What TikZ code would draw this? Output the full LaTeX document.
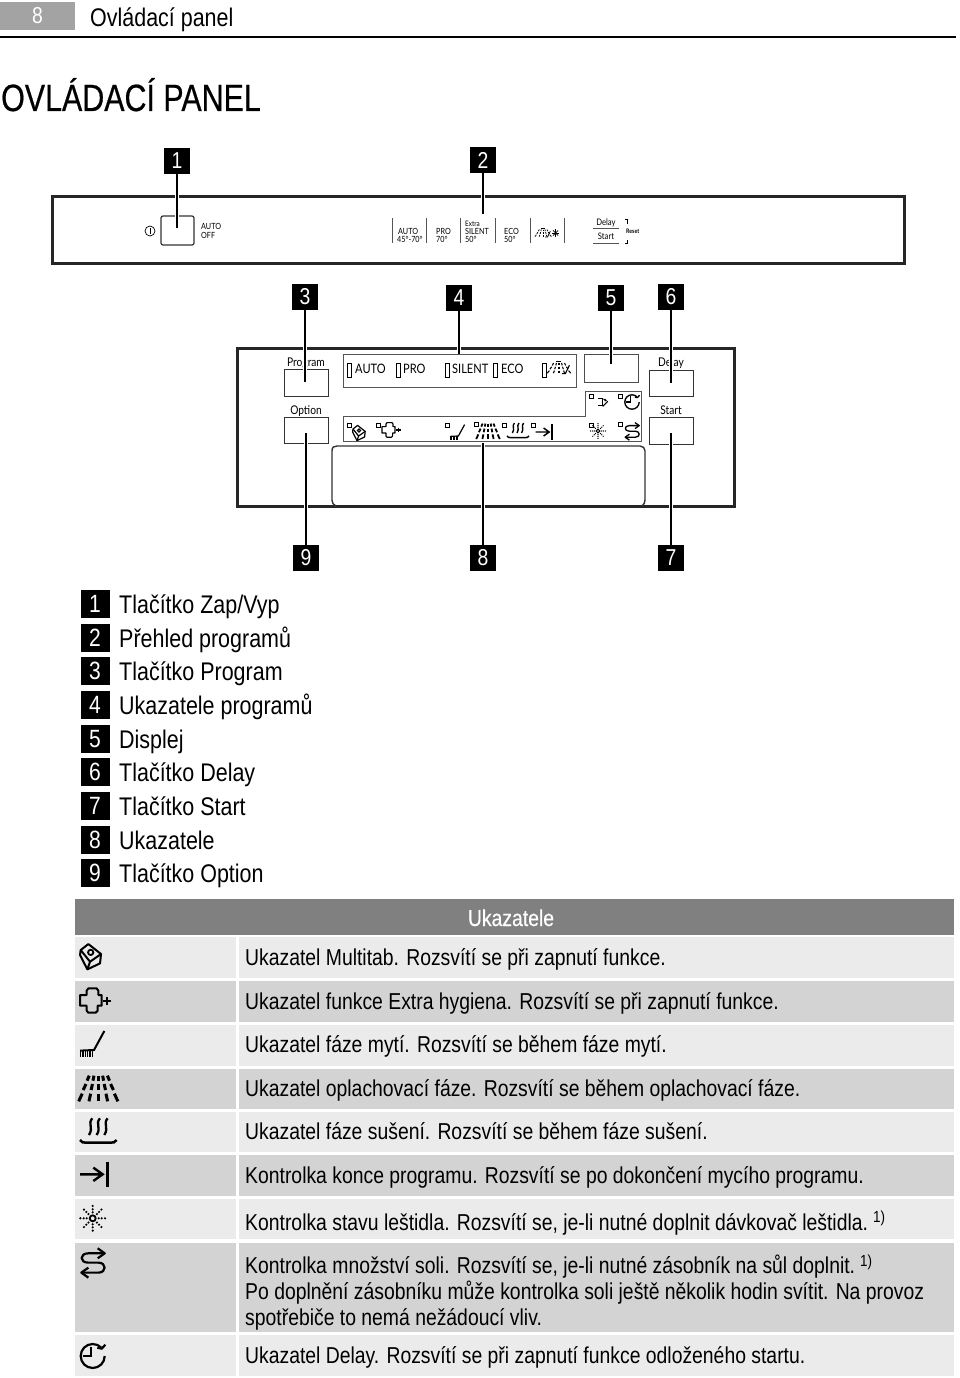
\documentclass[tikz,border=0pt]{standalone}
\usepackage{fontspec}
\setmainfont{Liberation Sans}[FakeStretch=0.842]
\newfontfamily\panelfont{Lato}[FakeStretch=0.85]
\newfontfamily\titlefont{Liberation Sans}[FakeStretch=0.8,FakeBold=0.5]
\newfontfamily\headfont{Liberation Sans}[FakeStretch=0.842,FakeBold=0.5]
\definecolor{rowa}{HTML}{EBEBEB}
\definecolor{rowb}{HTML}{D3D3D3}
\definecolor{headgray}{HTML}{808080}
\definecolor{pagebox}{HTML}{A3A3A3}
\definecolor{thinline}{HTML}{555555}
\definecolor{boxline}{HTML}{262626}
\newcommand{\fs}[1]{\fontsize{#1}{#1}\selectfont}
\newcommand{\icon}[4]{\begin{scope}[shift={(#1,#2)},#3]#4\end{scope}}
\newlength{\lwb}
% ---- icons, in units of a 3x zoom, centred on the origin
\newcommand{\IMulti}{%
 \draw[line width=2\lwb,line join=round] (-7,-38)--(31,-8)--(28,20)--(-10,38)--(-32,-5)--(-30,-20)--cycle;
 \draw[line width=2\lwb,line join=round] (-30,-20)--(-2,15)--(31,-8) (-2,15)--(-10,38);
 \draw[line width=1.8\lwb] (0,-13) circle (8);}
\newcommand{\ICross}{%
 \draw[line width=2\lwb,line join=round] (-20,-37)--(5,-37)--(10,-30)--(10,-17)--(20,-17)--(20,15)--(8,15)--(8,30)--(2,36)--(-20,36)--(-25,30)--(-25,15)--(-45,15)--(-45,-17)--(-25,-17)--(-25,-30)--cycle;
 \draw[line width=1.8\lwb] (24,0)--(48,0) (36,-12)--(36,12);}
\newcommand{\IBrush}{%
 \draw[line width=2\lwb] (38,-37)--(7,20)--(-35,22);
 \foreach \x in {-33,-26,-19,-12,-5,2}{\draw[line width=1.2\lwb] (\x,22)--(\x,40);}}
\newcommand{\ISpray}{%
 \foreach \k in {-0.42,-0.2,0,0.2,0.42}{%
  \draw[line width=3\lwb] ({\k*65},-37)--({\k*80},-22);
  \draw[line width=3\lwb] ({\k*88},-12)--({\k*108},6);
  \draw[line width=3\lwb] ({\k*115},17)--({\k*140},40);}}
\newcommand{\ISteam}{%
 \foreach \x in {-23,0,23}{\draw[line width=2.3\lwb] (\x+5,-35) .. controls (\x-10,-18) and (\x+10,-8) .. (\x-5,15);}
 \draw[line width=2.5\lwb] (-55,30) .. controls (-50,38) and (-45,38) .. (-35,38)--(35,38) .. controls (45,38) and (50,38) .. (55,30);}
\newcommand{\IArrow}{%
 \draw[line width=2.4\lwb] (-42,0)--(26,0) (-2,-20)--(26,0)--(-2,20);
 \draw[line width=3.2\lwb] (41,-38)--(41,39);}
\newcommand{\ISun}{%
 \draw[line width=1.8\lwb] (0,0) circle (9);
 \foreach \a in {0,45,...,315}{\foreach \r in {18,27,37}{\fill (\a:\r) circle (3.6);}}}
\newcommand{\ISalt}{%
 \draw[line width=2.2\lwb,line join=round] (35,-27)--(-13,-27) .. controls (-40,-27) and (-40,1) .. (-13,1)--(17,1) .. controls (42,1) and (42,31) .. (17,31)--(-33,31);
 \draw[line width=2.2\lwb,line join=round] (15,-42)--(36,-27)--(15,-12) (-13,16)--(-34,31)--(-13,46);}
\newcommand{\IClock}{%
 \draw[line width=2.2\lwb] (36,0) arc (0:315:36);
 \draw[line width=2.2\lwb] (-6,-28)--(-6,0)--(-28,0);
 \draw[line width=2.2\lwb,line join=round] (14,-25)--(27,-22)--(38,-34);}
\newcommand{\IRinse}{%
 \draw[line width=1.8\lwb] (-24,-17)--(-1,-17)--(-1,16)--(-24,16);
 \draw[line width=1.8\lwb] (24,-4)--(-1,22);
 \draw[line width=1.5\lwb] (2,-15)--(16,-7) (10,-14)--(16,-7)--(8,-5);}
\newcommand{\IWashy}{%
 \foreach \k in {-0.42,-0.2,0,0.2,0.42}{%
  \draw[line width=1.8\lwb] ({-10+\k*65},-25)--({-10+\k*80},-13);
  \draw[line width=1.8\lwb] ({-10+\k*88},-6)--({-10+\k*108},6);
  \draw[line width=1.8\lwb] ({-10+\k*115},13)--({-10+\k*140},26);}
 \draw[line width=1.8\lwb] (42,-14)--(22,28)--(4,28);
 \draw[line width=1.8\lwb] (2,-32)--(-26,-32);}
\tikzset{
 tagbox/.style={fill=black,text=white,inner sep=0pt,minimum width=26,minimum height=26,font=\fs{23}},
 legtag/.style={fill=black,text=white,inner sep=0pt,minimum width=29,minimum height=28,font=\fs{25}},
 conn/.style={draw=black,line width=1.5pt,preaction={draw=white,line width=4.5pt}},
 outerbox/.style={draw=boxline,line width=3pt,inner sep=0pt,outer sep=0pt,anchor=north west},
 btnbox/.style={draw=black!80,line width=1.2pt,inner sep=0pt,outer sep=0pt},
 grayline/.style={draw=thinline,line width=1pt,outer sep=0pt},
 ledsq/.style={draw=black,line width=1pt,inner sep=0pt,minimum size=4},
 ledbar/.style={draw=black,line width=0.9pt,inner sep=0pt,minimum width=4,minimum height=14},
 plab/.style={anchor=base west,inner sep=0pt,font=\panelfont\fs{13}},
 sl/.style={anchor=base west,inner sep=0pt,font=\panelfont\fs{8.5},align=left},
 sc/.style={anchor=base,inner sep=0pt,font=\panelfont\fs{9}},
 toplab/.style={anchor=base,inner sep=0pt,font=\panelfont\fs{12}},
 legtext/.style={anchor=base west,inner sep=0pt,font=\fs{25.5}},
 rowtext/.style={anchor=base west,inner sep=0pt,font=\fs{23}},
 cella/.style={fill=rowa,inner sep=0pt,outer sep=0pt,anchor=north west},
 cellb/.style={fill=rowb,inner sep=0pt,outer sep=0pt,anchor=north west},
 ticon/.style={scale=0.3333,/utils/exec={\setlength{\lwb}{1pt}}},
 picon/.style={scale=0.2,/utils/exec={\setlength{\lwb}{0.6pt}}},
 mini/.style={scale=0.14,/utils/exec={\setlength{\lwb}{0.42pt}}},
}
\begin{document}
\begin{tikzpicture}[x=1pt,y=-1pt]
\useasboundingbox[fill=white] (0,0) rectangle (960,1378);
% page head
\node[fill=pagebox,text=white,inner sep=0pt,outer sep=0pt,minimum width=75,minimum height=28,anchor=north west,font=\fs{23}] (pageno) at (0,2) {8};
\node[anchor=base west,inner sep=0pt,font=\fs{25.5}] (runhead) at (90,27) {Ovládací panel};
\coordinate (ruleL) at (0,37); \coordinate (ruleR) at (956,37);
\draw[line width=1.2pt] (ruleL)--(ruleR);
\node[anchor=base west,inner sep=0pt,font=\titlefont\fs{38}] (title) at (1,111) {OVLÁDACÍ PANEL};
% ---- upper panel
\node[outerbox,minimum width=852,minimum height=66.5] (panelA) at (52.5,196.5) {};
\node[btnbox,rounded corners=2,minimum width=33,minimum height=29,anchor=north west] (onoff) at (161,216) {};
\draw[line width=0.7pt] (150,231) circle (5); \draw[line width=0.8pt] (150,228)--(150,234);
\node[sl] (autooff) at (201,229) {AUTO};
\node[sl] (autooffb) at (201,238) {OFF};
\foreach \x in {392,426,460,495,530,564}{\draw[grayline] (\x,218)--(\x,243);}
\node[sl] (p1a) at (398,234) {AUTO};
\node[sl] (p1b) at (397,242) {45°-70°};
\node[sl] (p2a) at (436,234) {PRO};
\node[sl] (p2b) at (436,242) {70°};
\node[sl,font=\panelfont\fs{7.5}] (p3x) at (465,226) {Extra};
\node[sl] (p3a) at (465,234) {SILENT};
\node[sl] (p3b) at (465,242) {50°};
\node[sl] (p4a) at (504,234) {ECO};
\node[sl] (p4b) at (504,242) {50°};
\icon{544.5}{233}{mini}{\IWashy}
\foreach \a in {0,45,...,315}{\draw[line width=0.7pt] (555.5,233)--++(\a:3.6);}
\node[sc] (tdelay) at (606,225) {Delay};
\node[sc] (tstart) at (606,239) {Start};
\draw[grayline] (593,228)--(619,228) (593,243)--(619,243);
\draw[line width=0.7pt] (625,219)--(627,219)--(627,224) (627,240)--(627,243)--(625,243);
\node[anchor=base west,inner sep=0pt,font=\panelfont\bfseries\fs{6.2}] (treset) at (626,233) {Reset};
% ---- lower panel
\node[outerbox,minimum width=497,minimum height=157.5] (panelB) at (237.5,348.5) {};
\node[btnbox,minimum width=44,minimum height=27,anchor=north west] (bProg) at (284.5,369.5) {};
\node[btnbox,minimum width=44,minimum height=26,anchor=north west] (bOpt) at (284.5,417.5) {};
\node[btnbox,minimum width=44,minimum height=26,anchor=north west] (bDelay) at (649.5,370.5) {};
\node[btnbox,minimum width=44,minimum height=27,anchor=north west] (bStart) at (649.5,417.5) {};
\node[grayline,minimum width=233,minimum height=33,inner sep=0pt,anchor=north west] (rowProg) at (343,354) {};
\node[grayline,draw=black!70,minimum width=54,minimum height=28,inner sep=0pt,anchor=north west] (disp) at (584,354) {};
\draw[grayline] (343,416.5)--(585,416.5)--(585,391)--(641,391)--(641,441)--(343,441)--cycle;
\draw[draw=black!80,line width=1.4pt] (336,506) .. controls (333,504) and (332,503) .. (332,500)--(332,451) .. controls (332,447) and (334,446) .. (337,446)--(640,446) .. controls (643,446) and (645,448) .. (645,451)--(645,500) .. controls (645,503) and (644,504) .. (642,506);
\node[toplab] (lProg) at (306,366) {Program};
\node[toplab] (lOpt) at (306,414) {Option};
\node[toplab] (lDelay) at (671,366) {Delay};
\node[toplab] (lStart) at (671,414) {Start};
% programme row
\node[ledbar] (la) at (349,370) {}; \node[plab] (ta) at (355,373.5) {AUTO};
\node[ledbar] (lb) at (398,370) {}; \node[plab] (tb) at (403,373.5) {PRO};
\node[ledbar] (lc) at (447,370) {}; \node[plab] (tc) at (452,373.5) {SILENT};
\node[ledbar] (ld) at (495,370) {}; \node[plab] (td) at (501,373.5) {ECO};
\node[ledbar] (le) at (544,370) {};
\icon{561}{368}{picon}{\IWashy}
% indicator LEDs
\foreach \n/\x/\y in {s1/349/425,s2/378/425,s3/447/425,s4/476/424,s5/504/425,s6/533/425,s7/591/425,s8/620/424,s9/620/396,s10/591/396}{\node[ledsq] (\n) at (\x,\y) {};}
\icon{359}{433}{picon}{\IMulti}
\icon{391}{430}{picon}{\ICross}
\icon{457}{432}{picon}{\IBrush}
\icon{488}{431}{picon}{\ISpray}
\icon{518}{430}{picon}{\ISteam}
\icon{544}{432}{picon}{\IArrow}
\icon{598}{431}{picon}{\ISun}
\icon{632}{431}{picon}{\ISalt}
\icon{632}{402}{picon}{\IClock}
\icon{603}{402}{picon}{\IRinse}
% ---- number tags and connectors
\node[tagbox] (t1) at (177,161) {1};
\node[tagbox] (t2) at (483,160) {2};
\node[tagbox] (t3) at (305,297) {3};
\node[tagbox] (t4) at (459,298) {4};
\node[tagbox] (t5) at (611,298) {5};
\node[tagbox] (t6) at (671,297) {6};
\node[tagbox] (t9) at (306,558) {9};
\node[tagbox] (t8) at (483,558) {8};
\node[tagbox] (t7) at (671,558) {7};
\coordinate (e1) at (177,228);
\coordinate (e2) at (483,214);
\coordinate (e3) at (305,382);
\coordinate (e4) at (459,354);
\coordinate (e5) at (611,364);
\coordinate (e6) at (671,383);
\coordinate (e9) at (306,433);
\coordinate (e8) at (483,443);
\coordinate (e7) at (671,433);
\foreach \t/\e in {t1/e1,t2/e2,t3/e3,t4/e4,t5/e5,t6/e6}{\path[conn] (\t.south)--(\e);}
\foreach \t/\e in {t9/e9,t8/e8,t7/e7}{\path[conn] (\t.north)--(\e);}
% ---- legend
\foreach \n/\y/\s in {1/604/Tlačítko Zap\slash Vyp,2/638/Přehled programů,3/671/Tlačítko Program,4/705/Ukazatele programů,5/739/Displej,6/772/Tlačítko Delay,7/806/Tlačítko Start,8/840/Ukazatele,9/873/Tlačítko Option}{%
 \node[legtag] (leg\n) at (95,\y) {\n};
 \node[legtext] (legt\n) at (119,\y+9) {\s};}
% ---- table
\node[fill=headgray,text=white,inner sep=0pt,outer sep=0pt,minimum width=879,minimum height=36,anchor=north west] (thead) at (75,899) {};
\node[text=white,inner sep=0pt,anchor=base,font=\headfont\fs{23}] (theadt) at (511,926) {Ukazatele};
\foreach \n/\st/\y/\h in {1/cella/937/41,2/cellb/981/41,3/cella/1025/41,4/cellb/1069/40,5/cella/1112/40,6/cellb/1155/41,7/cella/1199/40,8/cellb/1243/89,9/cella/1335/41}{%
 \node[\st,minimum width=161,minimum height=\h] (ca\n) at (75,\y) {};
 \node[\st,minimum width=715,minimum height=\h] (cb\n) at (239,\y) {};}
\icon{90.7}{956.7}{ticon}{\IMulti}
\icon{95}{1000.7}{ticon}{\ICross}
\icon{91.7}{1043.3}{ticon}{\IBrush}
\icon{98.3}{1088}{ticon}{\ISpray}
\icon{98.3}{1130}{ticon}{\ISteam}
\icon{94}{1174.3}{ticon}{\IArrow}
\icon{92.7}{1218.3}{ticon}{\ISun}
\icon{92.7}{1262.3}{ticon}{\ISalt}
\icon{92.7}{1356}{ticon}{\IClock}
\node[rowtext] (r1) at (245,965) {Ukazatel Multitab. Rozsvítí se při zapnutí funkce.};
\node[rowtext] (r2) at (245,1009) {Ukazatel funkce Extra hygiena. Rozsvítí se při zapnutí funkce.};
\node[rowtext] (r3) at (245,1052) {Ukazatel fáze mytí. Rozsvítí se během fáze mytí.};
\node[rowtext] (r4) at (245,1096) {Ukazatel oplachovací fáze. Rozsvítí se během oplachovací fáze.};
\node[rowtext] (r5) at (245,1139) {Ukazatel fáze sušení. Rozsvítí se během fáze sušení.};
\node[rowtext] (r6) at (245,1183) {Kontrolka konce programu. Rozsvítí se po dokončení mycího programu.};
\node[rowtext] (r7) at (245,1230) {Kontrolka stavu leštidla. Rozsvítí se, je-li nutné doplnit dávkovač leštidla.};
\node[anchor=base west,inner sep=0pt,font=\fs{16}] (r7s) at (873,1222) {1)};
\node[rowtext] (r8a) at (245,1273) {Kontrolka množství soli. Rozsvítí se, je-li nutné zásobník na sůl doplnit.};
\node[anchor=base west,inner sep=0pt,font=\fs{16}] (r8s) at (860,1266) {1)};
\node[rowtext] (r8b) at (245,1299) {Po doplnění zásobníku může kontrolka soli ještě několik hodin svítit. Na provoz};
\node[rowtext] (r8c) at (245,1325) {spotřebiče to nemá nežádoucí vliv.};
\node[rowtext] (r9) at (245,1363) {Ukazatel Delay. Rozsvítí se při zapnutí funkce odloženého startu.};
\end{tikzpicture}
\end{document}
